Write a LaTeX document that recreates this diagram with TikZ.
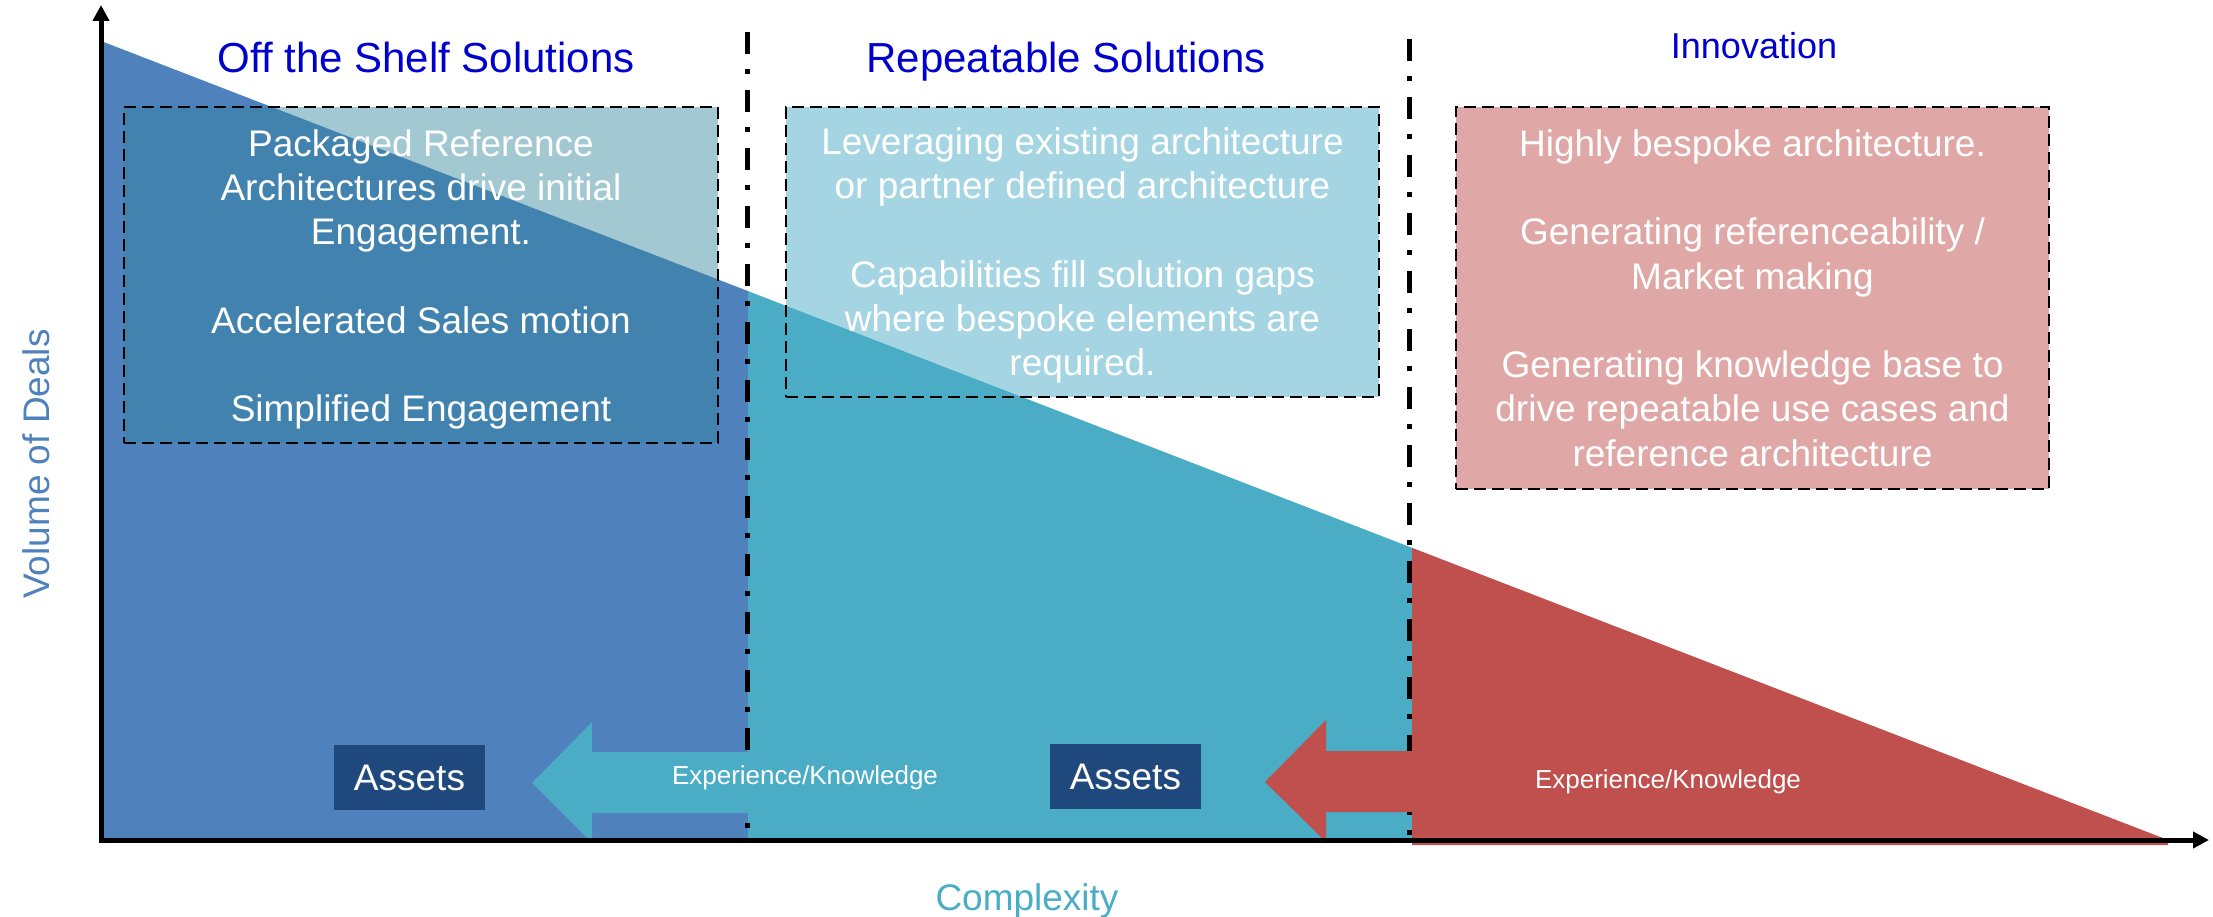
\documentclass[tikz,border=0pt]{standalone}
\usepackage{fontspec}
\setmainfont{Liberation Sans}
\usetikzlibrary{arrows.meta}
\definecolor{dealblue}{RGB}{79,129,189}
\definecolor{dealteal}{RGB}{75,172,198}
\definecolor{dealred}{RGB}{192,80,77}
\definecolor{assetnavy}{RGB}{31,73,125}
\definecolor{headblue}{RGB}{0,0,204}
\definecolor{packfill}{RGB}{49,133,156}

\begin{document}
\begin{tikzpicture}[x=1pt,y=-1pt,
  heading/.style={text=headblue, anchor=base, inner sep=0pt},
  notebox/.style={draw=black, line width=2.2pt, dash pattern=on 12pt off 6pt,
    inner sep=0pt},
  notetext/.style={text=white, align=center, inner sep=0pt,
    font=\fontsize{37}{44.3}\selectfont},
  assetbox/.style={fill=assetnavy, text=white, minimum width=151pt,
    minimum height=65pt, inner sep=0pt, font=\fontsize{37}{44}\selectfont},
  flowlabel/.style={text=white, inner sep=0pt, font=\fontsize{26}{31}\selectfont},
  divider/.style={line width=5pt, dash pattern=on 22pt off 15pt on 5pt off 16pt},
  axisline/.style={line width=5pt, -{Triangle[length=16pt,width=16pt]}},
  axislabel/.style={inner sep=0pt, font=\fontsize{37}{44}\selectfont}
]
\useasboundingbox (0,0) rectangle (2213,917);

% axis end points
\coordinate (origin) at (101,840);
\coordinate (ytop) at (101,5);
\coordinate (xend) at (2209,840);

% deal volume falling with complexity, in three bands
\fill[dealblue] (101,41) -- (748,291.1) -- (748,840) -- (101,840) -- cycle;
\fill[dealteal] (748,291.1) -- (1412,547.8) -- (1412,840) -- (748,840) -- cycle;
\fill[dealred] (1412,547.8) -- (2168,840) -- (2168,845) -- (1412,845) -- cycle;

% band dividers
\coordinate (d1top) at (747,32);
\coordinate (d1bot) at (747,840);
\coordinate (d2top) at (1409,39);
\coordinate (d2bot) at (1409,840);
\draw[divider] (d1top) -- (d1bot);
\draw[divider] (d2top) -- (d2bot);

% experience / knowledge flowing back
\fill[dealteal] (532,783) -- (592,722) -- (592,752) -- (1018,752) -- (1018,813)
  -- (592,813) -- (592,843) -- cycle;
\fill[dealred] (1265,782) -- (1326,720) -- (1326,751) -- (1900,751) -- (1900,812)
  -- (1326,812) -- (1326,842) -- cycle;
\node[flowlabel] (flow1) at (805,778) {Experience/Knowledge};
\node[flowlabel] (flow2) at (1668,782) {Experience/Knowledge};

% asset boxes
\node[assetbox] (assets1) at (409.5,777.5) {Assets};
\node[assetbox] (assets2) at (1125.5,776.5) {Assets};

% band headings
\node[heading, font=\fontsize{42}{50}\selectfont] (h1) at (426,73) {Off the Shelf Solutions};
\node[heading, font=\fontsize{42}{50}\selectfont] (h2) at (1066,73) {Repeatable Solutions};
\node[heading, font=\fontsize{36}{43}\selectfont] (h3) at (1754,59) {Innovation};

% notes for each band
\node[notebox, fill=packfill, fill opacity=0.45, minimum width=594pt,
  minimum height=336pt] (note1) at (421,275) {};
\node[notebox, fill=dealteal, fill opacity=0.5, minimum width=593pt,
  minimum height=290pt] (note2) at (1082.5,252) {};
\node[notebox, fill=dealred, fill opacity=0.5, minimum width=593pt,
  minimum height=382pt] (note3) at (1752.5,298) {};
\node[notetext] (note1text) at ([yshift=-4.5pt]note1.center)
  {Packaged Reference\\Architectures drive initial\\Engagement.\\[44.3pt]
   Accelerated Sales motion\\[44.3pt]Simplified Engagement};
\node[notetext] (note2text) at ([yshift=-3.5pt]note2.center)
  {Leveraging existing architecture\\or partner defined architecture\\[44.3pt]
   Capabilities fill solution gaps\\where bespoke elements are\\required.};
\node[notetext] (note3text) at (note3.center)
  {Highly bespoke architecture.\\[44.3pt]Generating referenceability /\\Market making\\[44.3pt]
   Generating knowledge base to\\drive repeatable use cases and\\reference architecture};

% axes
\draw[axisline] ([yshift=2pt]origin) -- (ytop);
\draw[axisline] ([xshift=-2pt]origin) -- (xend);
\node[axislabel, text=dealblue, rotate=90] (ylab) at (36,464) {Volume of Deals};
\node[axislabel, text=dealteal, anchor=base] (xlab) at (1027,910) {Complexity};
\end{tikzpicture}
\end{document}
